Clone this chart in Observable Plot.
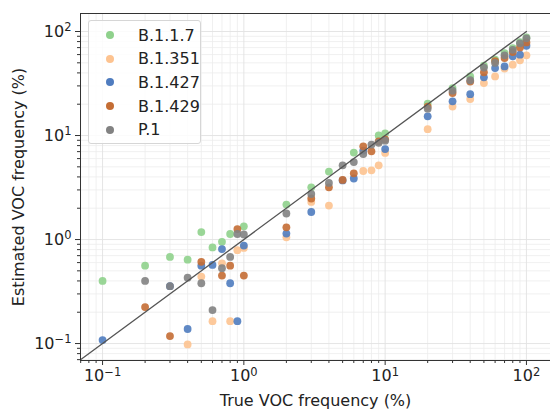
<!DOCTYPE html>
<html>
<head>
<meta charset="utf-8">
<script src="https://cdn.jsdelivr.net/npm/d3@7"></script>
<script src="https://cdn.jsdelivr.net/npm/@observablehq/plot@0.6"></script>
<style>
  body { margin: 0; background: #fff; }
  #wrap { position: relative; width: 550px; height: 412px; font-family: "DejaVu Sans", sans-serif; }
  #legend { position: absolute; left: 88px; top: 20px; width: 113px; height: 124px; box-sizing: border-box;
    border: 1px solid #d6d6d6; border-radius: 3px; background: rgba(255,255,255,0.85); }
  .row { position: absolute; left: 0; height: 20px; display: flex; align-items: center; font-size: 16px; color: #222; }
  .sw { width: 8px; height: 8px; border-radius: 50%; margin-left: 17px; margin-right: 24px; }
</style>
</head>
<body>
<div id="wrap"></div>
<script>
const trueFreq = [0.1,0.2,0.3,0.4,0.5,0.6,0.7,0.8,0.9,1,2,3,4,5,6,7,8,9,10,20,30,40,50,60,70,80,90,100];
const seriesNames = ["B.1.1.7","B.1.351","B.1.427","B.1.429","P.1"];
const seriesColors = ["#8fd18c","#fdc390","#4f7cbf","#c46d34","#828282"];
const est_B117  = [0.40,0.56,0.68,0.64,1.18,0.84,0.95,1.13,null,1.34,2.17,3.18,4.5,null,6.85,null,null,10.0,10.5,20.2,28.6,37,46.9,53.6,62,69.3,79,87.8];
const est_B1351 = [null,null,null,0.098,0.44,0.164,0.59,0.164,0.79,0.83,1.05,2.30,2.12,null,null,4.56,4.63,5.17,6.8,11.5,19,22.4,31.9,37,44,48,52.8,59];
const est_B1427 = [0.108,null,0.356,0.138,0.56,0.57,0.81,0.38,0.164,0.875,1.14,1.84,null,3.7,3.86,7.16,null,null,7.41,15.3,21.3,25,36.3,44.5,46.2,57.7,59.9,73];
const est_B1429 = [null,0.224,0.118,null,0.61,null,0.45,0.56,1.26,0.45,1.31,2.48,3.18,3.74,4.33,7.87,7.05,8.8,9.2,19,25.6,33,40.5,52,55.6,63.4,70.3,78.6];
const est_P1    = [null,0.40,0.356,0.43,0.38,0.21,0.53,0.68,1.13,1.12,1.78,2.74,3.5,5.17,5.56,6.64,8.18,8.5,8.93,18.1,27,34,45,49.9,59,66.6,77,86];
const estimates = [est_B117, est_B1351, est_B1427, est_B1429, est_P1];
const majorTicks = [0.1, 1, 10, 100];
const majorExponents = ["\u22121","0","1","2"];
const identityLine = [0.0698, 100];

const xDomain = [0.0698, 148];
const yDomain = [0.0687, 149];

const rows = [];
seriesNames.forEach((name, i) => {
  trueFreq.forEach((t, j) => {
    const v = estimates[i][j];
    if (v != null) rows.push({series: name, x: t, y: v});
  });
});

const minor = [];
for (let e = -2; e <= 2; e++) for (let k = 2; k <= 9; k++) minor.push(k * Math.pow(10, e));
const minorX = minor.filter(v => v > xDomain[0] && v < xDomain[1]);
const minorY = minor.filter(v => v > yDomain[0] && v < yDomain[1]);
const fmt = d => "10^" + majorExponents[majorTicks.indexOf(d)];

const plot = Plot.plot({
  width: 550, height: 412,
  marginLeft: 80, marginRight: 0, marginTop: 13, marginBottom: 52,
  style: {fontFamily: "DejaVu Sans, sans-serif", fontSize: "16px", color: "#222", background: "white"},
  x: {type: "log", domain: xDomain},
  y: {type: "log", domain: yDomain},
  color: {domain: seriesNames, range: seriesColors},
  marks: [
    Plot.ruleX(minorX, {stroke: "#ececec", strokeWidth: 0.8}),
    Plot.ruleY(minorY, {stroke: "#ececec", strokeWidth: 0.8}),
    Plot.ruleX(majorTicks, {stroke: "#e2e2e2", strokeWidth: 0.9}),
    Plot.ruleY(majorTicks, {stroke: "#e2e2e2", strokeWidth: 0.9}),
    Plot.axisX(minorX, {tickSize: 3, tickFormat: () => "", stroke: "#333", label: null}),
    Plot.axisY(minorY, {tickSize: 3, tickFormat: () => "", stroke: "#333", label: null}),
    Plot.axisX(majorTicks, {tickSize: 5, tickPadding: 4, tickFormat: fmt, stroke: "#333", fontSize: 16,
      label: "True VOC frequency (%)", labelAnchor: "center", labelArrow: "none", labelOffset: 45}),
    Plot.axisY(majorTicks, {tickSize: 5, tickPadding: 4, tickFormat: fmt, stroke: "#333", fontSize: 16,
      label: "Estimated VOC frequency (%)", labelAnchor: "center", labelArrow: "none", labelOffset: 68}),
    Plot.dot(rows, {x: "x", y: "y", fill: "series", r: 3.9, fillOpacity: 0.9}),
    Plot.line(identityLine, {x: d => d, y: d => d, stroke: "#555", strokeWidth: 1.3}),
    Plot.ruleX([xDomain[0]], {stroke: "#333", strokeWidth: 1}),
    Plot.ruleY([yDomain[0]], {stroke: "#333", strokeWidth: 1}),
    Plot.ruleY([yDomain[1]], {stroke: "#333", strokeWidth: 1})
  ]
});

// render exponents as real superscripts
d3.select(plot).selectAll("text").each(function() {
  const t = this.textContent;
  if (t.startsWith("10^")) {
    const exp = t.slice(3);
    const sel = d3.select(this);
    sel.text("10");
    sel.append("tspan").attr("dy", "-0.45em").attr("font-size", "11.5px").text(exp);
  }
});

const wrap = document.getElementById("wrap");
wrap.appendChild(plot);

const legend = document.createElement("div");
legend.id = "legend";
seriesNames.forEach((name, i) => {
  const row = document.createElement("div");
  row.className = "row";
  row.style.top = (4 + i * 23.7) + "px";
  const sw = document.createElement("span");
  sw.className = "sw";
  sw.style.background = seriesColors[i];
  const tx = document.createElement("span");
  tx.textContent = name;
  row.appendChild(sw); row.appendChild(tx);
  legend.appendChild(row);
});
wrap.appendChild(legend);
</script>
</body>
</html>
